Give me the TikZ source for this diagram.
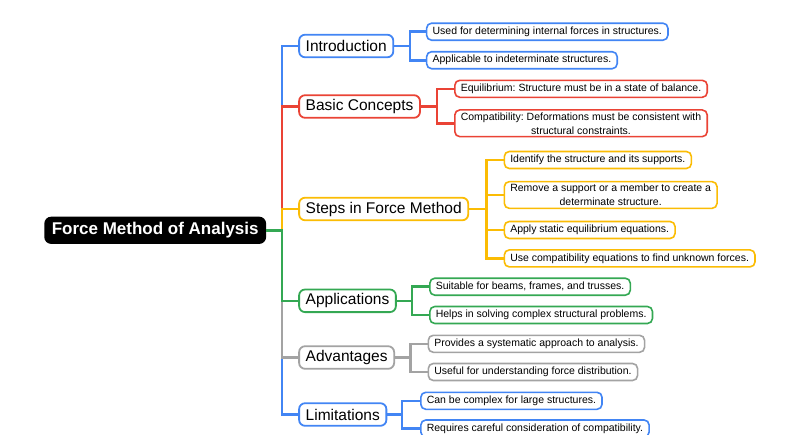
\documentclass[tikz,border=0pt]{standalone}
\usepackage{fontspec}
\setmainfont{Liberation Sans}
\frenchspacing
\definecolor{cblue}{HTML}{4285F4}
\definecolor{cred}{HTML}{EA4335}
\definecolor{cyel}{HTML}{FBBC04}
\definecolor{cgreen}{HTML}{34A853}
\definecolor{cgrey}{HTML}{A3A3A3}
\tikzset{
  rootbox/.style={fill=black, text=white, rounded corners=7pt, inner xsep=7.5pt, inner ysep=0pt,
    minimum height=27.3pt, font=\fontsize{17}{20}\selectfont\bfseries},
  mainbox/.style={draw, line width=1.8pt, rounded corners=6pt, fill=white, inner xsep=6.6pt,
    inner ysep=0pt, minimum height=22.6pt, font=\fontsize{15.5}{18}\selectfont, anchor=west},
  leafbox/.style={draw, line width=1.6pt, rounded corners=5pt, fill=white, inner xsep=6pt,
    inner ysep=2.5pt, minimum height=17pt, font=\fontsize{10.5}{14}\selectfont, align=center, anchor=west},
  conn/.style={line width=2.6pt}
}
\begin{document}
\begin{tikzpicture}[x=1pt,y=-1pt]
\useasboundingbox (0,0) rectangle (800,434);
% root
\node[rootbox] (root) at (155.2,230.3) {Force Method of Analysis};
% main nodes
\node[mainbox, draw=cblue] (intro) at (298.2,46) {Introduction};
\node[mainbox, draw=cred] (basic) at (298.2,106.5) {Basic Concepts};
\node[mainbox, draw=cyel] (steps) at (298.2,209) {Steps in Force Method};
\node[mainbox, draw=cgreen] (apps) at (298.2,300.8) {Applications};
\node[mainbox, draw=cgrey] (adv) at (298.2,357.5) {Advantages};
\node[mainbox, draw=cblue] (lim) at (298.2,414.5) {Limitations};
% leaves
\node[leafbox, draw=cblue] (i1) at (425.8,31.7) {Used for determining internal forces in structures.};
\node[leafbox, draw=cblue] (i2) at (425.8,60.2) {Applicable to indeterminate structures.};
\node[leafbox, draw=cred] (b1) at (454,88.8) {Equilibrium: Structure must be in a state of balance.};
\node[leafbox, draw=cred] (b2) at (454,123.3) {Compatibility: Deformations must be consistent with\\structural constraints.};
\node[leafbox, draw=cyel] (s1) at (503.5,160) {Identify the structure and its supports.};
\node[leafbox, draw=cyel] (s2) at (503.5,195) {Remove a support or a member to create a\\determinate structure.};
\node[leafbox, draw=cyel] (s3) at (503.5,230) {Apply static equilibrium equations.};
\node[leafbox, draw=cyel] (s4) at (503.5,258.4) {Use compatibility equations to find unknown forces.};
\node[leafbox, draw=cgreen] (a1) at (429,286.7) {Suitable for beams, frames, and trusses.};
\node[leafbox, draw=cgreen] (a2) at (429,315) {Helps in solving complex structural problems.};
\node[leafbox, draw=cgrey] (d1) at (427.5,343.8) {Provides a systematic approach to analysis.};
\node[leafbox, draw=cgrey] (d2) at (427.5,372) {Useful for understanding force distribution.};
\node[leafbox, draw=cblue] (l1) at (420,400.8) {Can be complex for large structures.};
\node[leafbox, draw=cblue] (l2) at (420,428.5) {Requires careful consideration of compatibility.};
% trunk coordinates
\coordinate (T) at (282,230.3);
\coordinate (tI) at (410,46);
\coordinate (tB) at (437,106.5);
\coordinate (tS) at (486.5,209);
\coordinate (tA) at (412,300.8);
\coordinate (tD) at (410.5,357.5);
\coordinate (tL) at (402,414.5);
% first-level connectors
\draw[conn, cblue] (root.east) -- (T) |- (lim.west);
\draw[conn, cgrey] (root.east) -- (T) |- (adv.west);
\draw[conn, cblue] (root.east) -- (T) |- (intro.west);
\draw[conn, cred] (root.east) -- (T) |- (basic.west);
\draw[conn, cyel] (root.east) -- (T) |- (steps.west);
\draw[conn, cgreen] (root.east) -- (T) |- (apps.west);
% second-level connectors
\draw[conn, cblue] (intro.east) -- (tI) |- (i1.west);
\draw[conn, cblue] (tI) |- (i2.west);
\draw[conn, cred] (basic.east) -- (tB) |- (b1.west);
\draw[conn, cred] (tB) |- (b2.west);
\draw[conn, cyel] (steps.east) -- (tS) |- (s1.west);
\draw[conn, cyel] (tS) |- (s2.west);
\draw[conn, cyel] (tS) |- (s3.west);
\draw[conn, cyel] (tS) |- (s4.west);
\draw[conn, cgreen] (apps.east) -- (tA) |- (a1.west);
\draw[conn, cgreen] (tA) |- (a2.west);
\draw[conn, cgrey] (adv.east) -- (tD) |- (d1.west);
\draw[conn, cgrey] (tD) |- (d2.west);
\draw[conn, cblue] (lim.east) -- (tL) |- (l1.west);
\draw[conn, cblue] (tL) |- (l2.west);
\end{tikzpicture}
\end{document}
